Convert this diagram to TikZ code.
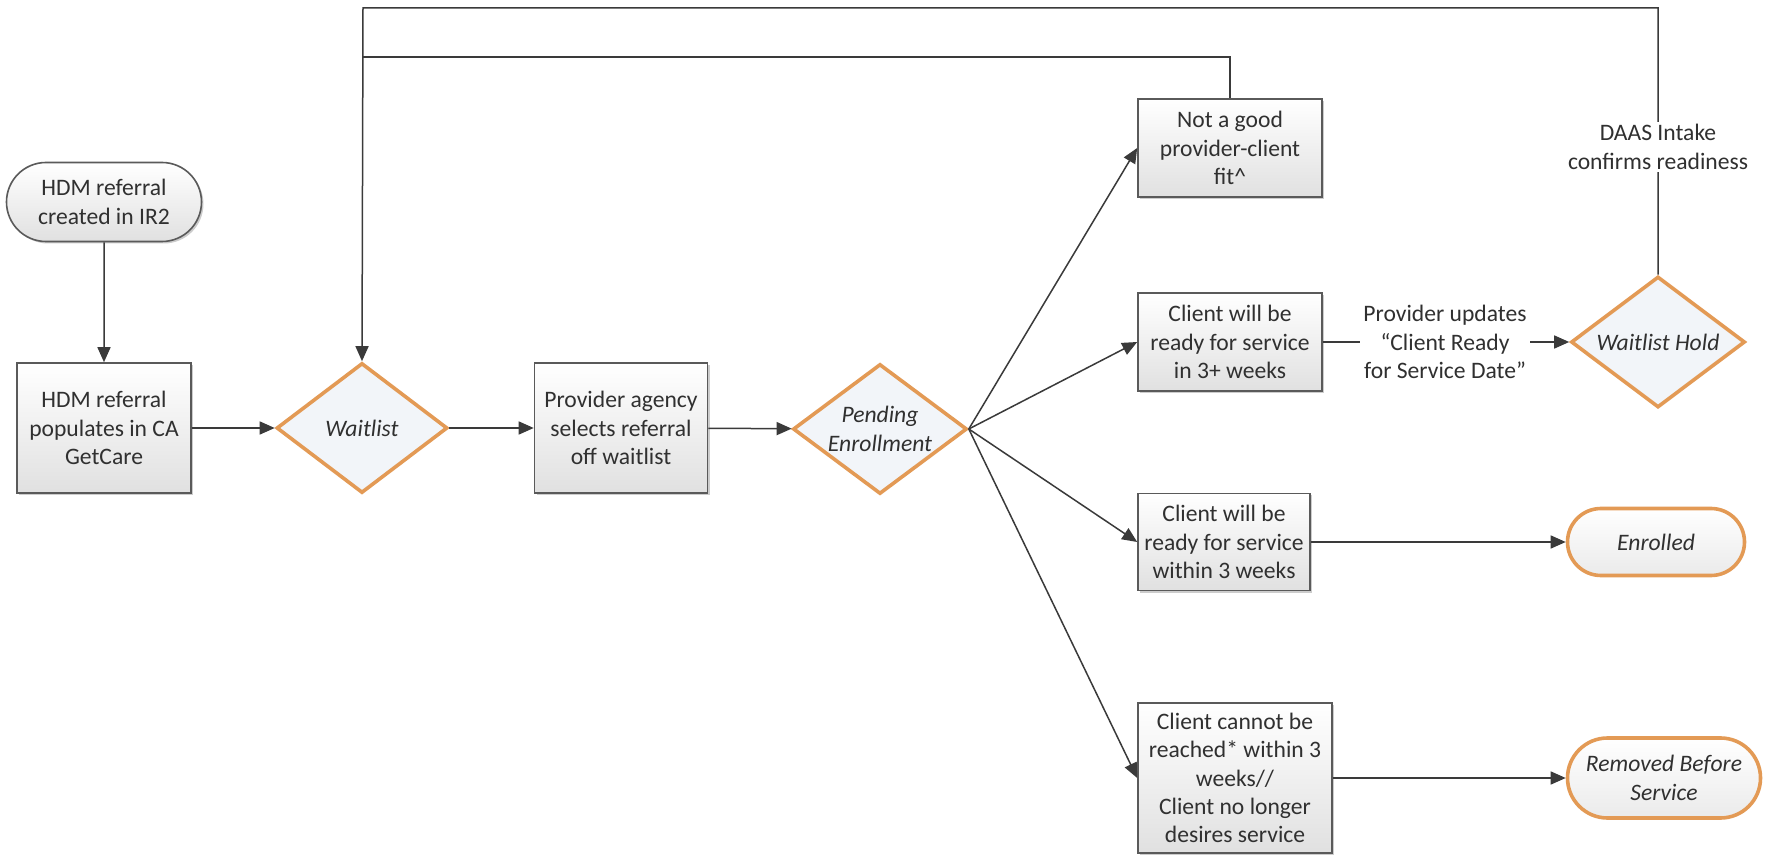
\documentclass[tikz,border=0pt]{standalone}
\usepackage{fontspec}
\setmainfont{Carlito}
\usetikzlibrary{shapes.geometric,shapes.misc,arrows.meta,shadows}
\definecolor{lineC}{HTML}{3A3A3A}
\definecolor{boxD}{HTML}{5A5A5A}
\definecolor{orangeC}{HTML}{E39A55}
\definecolor{dfill}{HTML}{F2F5F9}
\definecolor{txt}{HTML}{303030}
\tikzset{
  x=0.5pt,y=-0.5pt,
  every node/.style={font=\fontsize{11.8}{14.2}\selectfont, text=txt},
  procbox/.style={rectangle, draw=boxD, line width=0.8pt, top color=white, bottom color=black!12,
     align=center, inner sep=0pt, drop shadow={shadow xshift=1pt, shadow yshift=-1pt, opacity=0.2, fill=black}},
  decis/.style={diamond, draw=orangeC, line width=1.8pt, fill=dfill, inner sep=0pt},
  startterm/.style={rounded rectangle, draw=boxD, line width=0.8pt, top color=white, bottom color=black!12,
     align=center, inner sep=0pt, drop shadow={shadow xshift=1pt, shadow yshift=-1pt, opacity=0.2, fill=black}},
  endterm/.style={rounded rectangle, draw=orangeC, line width=1.8pt, top color=white, bottom color=black!8,
     align=center, inner sep=0pt, font=\fontsize{11.8}{14.2}\selectfont\itshape},
  conn/.style={draw=lineC, line width=0.75pt},
  arr/.style={conn, -{Triangle[length=7.5pt,width=6.5pt]}},
  lbl/.style={fill=white, align=center, inner sep=1.5pt}
}
\begin{document}
\begin{tikzpicture}
\useasboundingbox (0,0) rectangle (1773,855);
\fill[white] (0,0) rectangle (1773,855);

% nodes
\node[startterm, minimum width=97.5pt, minimum height=39.5pt] (start) at (104,202) {HDM referral\\created in IR2};
\node[procbox, minimum width=87pt, minimum height=65pt] (pop) at (104,428) {HDM referral\\populates in CA\\GetCare};
\node[decis, minimum width=85.5pt, minimum height=65pt] (wl) at (362,428) {};
\node at (wl.center) {\itshape Waitlist};
\node[procbox, minimum width=86.5pt, minimum height=65pt] (prov) at (621,428) {Provider agency\\selects referral\\off waitlist};
\node[decis, minimum width=87pt, minimum height=65pt] (pend) at (880,429) {};
\node[align=center] at (pend.center) {\itshape Pending\\\itshape Enrollment};

\node[procbox, minimum width=92pt, minimum height=49pt] (fit) at (1230,148) {Not a good\\provider-client\\fit\^{}};
\node[procbox, minimum width=92pt, minimum height=49pt] (c3) at (1230,342) {Client will be\\ready for service\\in 3+ weeks};
\node[procbox, minimum width=86pt, minimum height=48.5pt] (within) at (1224,542) {Client will be\\ready for service\\within 3 weeks};
\node[procbox, minimum width=97pt, minimum height=75pt] (cannot) at (1235,778) {Client cannot be\\reached* within 3\\weeks//\\Client no longer\\desires service};

\node[decis, minimum width=87pt, minimum height=65.5pt] (hold) at (1658,342) {};
\node at (hold.center) {\itshape Waitlist Hold};
\node[endterm, minimum width=88.5pt, minimum height=33.5pt] (enr) at (1656,542) {Enrolled};
\node[endterm, minimum width=96.5pt, minimum height=40pt] (rem) at (1664,778) {Removed Before\\Service};

\coordinate (loopx) at (363,8);
\coordinate (fitcorner) at (1230,57);
\coordinate (leftmid) at (363,57);
\coordinate (holdtop) at (1658,8);

% connectors
\draw[arr] (start) -- (pop);
\draw[arr] (pop) -- (wl);
\draw[arr] (wl) -- (prov);
\draw[arr] (prov) -- (pend);
\draw[arr] (pend.east) -- (fit.west);
\draw[arr] (pend.east) -- (c3.west);
\draw[arr] (pend.east) -- (within.west);
\draw[arr] (pend.east) -- (cannot.west);
\draw[arr] (within) -- (enr);
\draw[arr] (cannot.east |- rem.west) -- (rem.west);

\draw[conn] (fit.north) -- (fitcorner) -- (leftmid);
\draw[arr] (hold.north) -- (holdtop) -- (loopx) -- (wl.north);
\node[lbl] at (1658,147) {DAAS Intake\\confirms readiness};

\draw[arr] (c3) -- (hold);
\node[lbl] at (1445,342) {Provider updates\\``Client Ready\\for Service Date''};
\end{tikzpicture}
\end{document}
